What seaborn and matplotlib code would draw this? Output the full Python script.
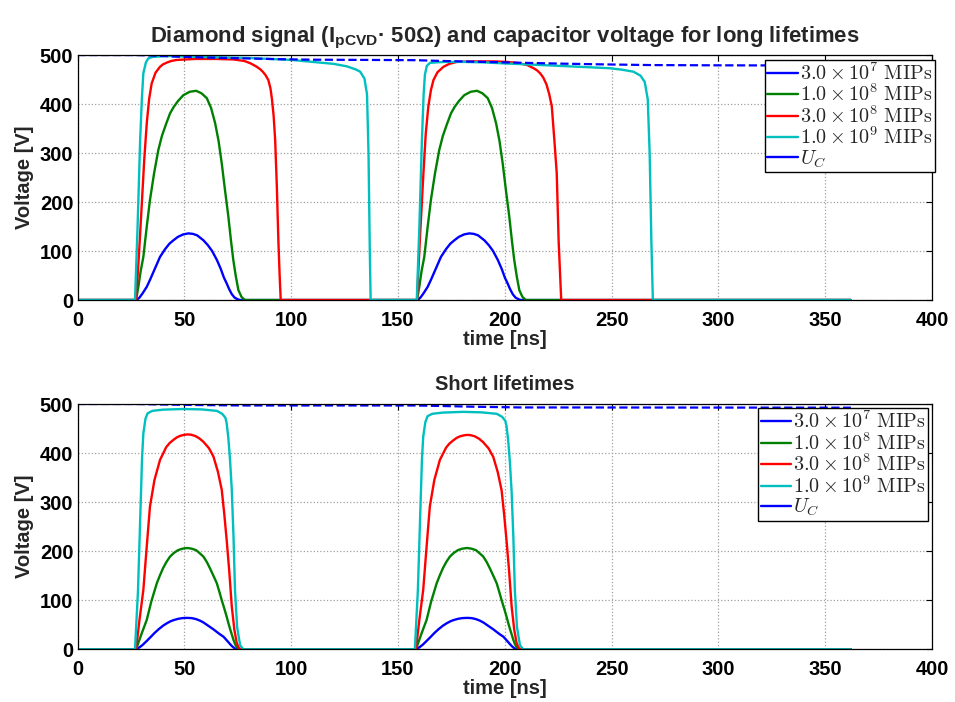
import numpy as np
import pandas as pd
import matplotlib
matplotlib.use("Agg")
import matplotlib.pyplot as plt
import seaborn as sns
from matplotlib.lines import Line2D

# ---------------- data ----------------
T_END = 362
# ---- top panel: long lifetimes ----
top_blue_t1 = [27.6, 29.0, 30.5, 32.4, 34.0, 36.0, 38.6, 41.0, 43.0, 44.9, 47.0, 49.5, 51.9, 54.0, 56.0, 58.9, 61.0, 63.0, 65.2, 67.0, 68.5, 69.8, 71.0, 72.2, 73.5, 75.0, 76.0]
top_blue_v1 = [0, 5, 14, 27, 42, 62, 88, 104, 115, 122, 129, 134, 136, 135, 132, 122, 112, 100, 82, 64, 46, 34, 22, 12, 5, 1.5, 0]
top_blue_t2 = [159.1, 160.5, 162.0, 163.9, 165.5, 167.5, 170.1, 172.5, 174.5, 176.4, 178.5, 181.0, 183.4, 185.5, 187.5, 190.4, 192.5, 194.5, 196.7, 198.5, 200.0, 201.3, 202.5, 203.7, 205.0, 206.5, 207.5]
top_blue_v2 = [0, 5, 14, 27, 42, 62, 88, 104, 115, 122, 129, 134, 136, 135, 132, 122, 112, 100, 82, 64, 46, 34, 22, 12, 5, 1.5, 0]

top_green_t1 = [27.4, 28.5, 29.5, 30.8, 32.4, 33.9, 35.8, 37.8, 39.5, 41.5, 43.3, 45.0, 47.0, 49.5, 52.5, 55.5, 58.0, 60.5, 62.5, 64.4, 66.0, 67.5, 69.0, 70.6, 71.8, 72.9, 74.1, 75.3, 76.8, 78.4]
top_green_v1 = [0, 28, 58, 88, 150, 204, 258, 306, 335, 360, 381, 394, 406, 418, 425, 427, 422, 412, 392, 361, 325, 279, 225, 170, 122, 82, 48, 20, 6, 0]
top_green_t2 = [158.9, 160.0, 161.0, 162.3, 163.9, 165.4, 167.3, 169.3, 171.0, 173.0, 174.8, 176.5, 178.5, 181.0, 184.0, 187.0, 189.5, 192.0, 194.0, 195.9, 197.5, 199.0, 200.5, 202.1, 203.3, 204.4, 205.6, 206.8, 208.3, 209.9]
top_green_v2 = [0, 28, 58, 88, 150, 204, 258, 306, 335, 360, 381, 394, 406, 418, 425, 427, 422, 412, 392, 361, 325, 279, 225, 170, 122, 82, 48, 20, 6, 0]

top_red_t1 = [27.4, 28.7, 30.0, 31.2, 32.4, 33.5, 34.7, 36.5, 38.6, 40.0, 42.0, 44.0, 46.4, 55.0, 65.0, 72.9, 78.0, 81.0, 83.9, 85.5, 86.7, 88.0, 89.3, 90.3, 91.0, 91.8, 92.5, 93.3, 94.0, 94.6, 95.1]
top_red_v1 = [0, 90, 190, 285, 361, 410, 442, 464, 476, 481, 485, 488, 490, 492, 492, 491, 488, 483, 476, 471, 466, 459, 449, 432, 410, 375, 327, 230, 122, 50, 0]
top_red_t2 = [158.9, 160.2, 161.9, 163.0, 164.2, 165.4, 166.6, 168.5, 171.3, 174.0, 177.5, 185.0, 195.0, 200.9, 205.5, 210.3, 213.5, 215.0, 216.5, 218.0, 219.5, 220.8, 222.0, 223.3, 224.3, 225.2, 226.4]
top_red_v2 = [0, 120, 259, 340, 395, 428, 449, 465, 476, 482, 486, 487, 487, 486, 484, 480, 473, 469, 463, 454, 440, 420, 395, 320, 259, 120, 0]

top_cyan_t1 = [26.9, 28.1, 29.3, 30.1, 30.8, 32.0, 33.1, 35.0, 38.0, 41.8, 50.0, 60.0, 70.0, 80.0, 90.0, 100.3, 110.0, 119.8, 126.0, 130.0, 132.3, 134.3, 135.5, 136.2, 136.8, 137.2]
top_cyan_v1 = [0, 150, 326, 410, 463, 485, 493, 496, 497, 498, 497, 496, 495, 494, 492, 490, 486, 482, 477, 471, 466, 452, 420, 300, 100, 0]
top_cyan_t2 = [158.8, 160.0, 161.2, 162.0, 162.6, 163.5, 165.0, 168.0, 172.0, 180.0, 190.0, 199.3, 210.0, 220.0, 230.0, 240.0, 249.3, 255.0, 260.2, 263.5, 265.5, 266.9, 267.8, 268.6, 269.3]
top_cyan_v2 = [0, 150, 326, 420, 460, 478, 484, 485, 486, 486, 485, 483, 481, 479, 477, 475, 473, 470, 466, 458, 445, 410, 300, 120, 0]

top_uc_t = [0, 27, 35, 45, 60, 75, 95, 110, 137, 158, 170, 190, 210, 226, 245, 269, 300, 362]
top_uc_v = [500, 500, 499, 497, 495, 493.5, 491.5, 490.5, 490, 489.5, 488, 486, 484, 482.5, 481, 479.5, 479, 478.5]

# ---- bottom panel: short lifetimes ----
bot_blue_t1 = [27.6, 29.0, 30.5, 32.4, 34.0, 36.0, 38.0, 40.0, 41.8, 43.5, 45.0, 47.0, 49.0, 51.4, 53.5, 55.5, 57.5, 59.0, 60.5, 62.0, 63.5, 65.0, 66.5, 68.3, 69.5, 70.5, 71.5, 72.5, 73.5, 75.0]
bot_blue_v1 = [0, 4, 9, 17, 24, 33, 41, 48, 53, 57, 59.5, 62, 63.5, 64, 63.5, 61.5, 58, 54.5, 50, 45.5, 41, 36, 31, 25.7, 20, 15, 10, 5.5, 2, 0]
bot_blue_t2 = [158.6, 160.0, 161.5, 163.4, 165.0, 167.0, 169.0, 171.0, 172.8, 174.5, 176.0, 178.0, 180.0, 182.4, 184.5, 186.5, 188.5, 190.0, 191.5, 193.0, 194.5, 196.0, 197.5, 199.3, 200.5, 201.5, 202.5, 203.5, 204.5, 206.0]
bot_blue_v2 = [0, 4, 9, 17, 24, 33, 41, 48, 53, 57, 59.5, 62, 63.5, 64, 63.5, 61.5, 58, 54.5, 50, 45.5, 41, 36, 31, 25.7, 20, 15, 10, 5.5, 2, 0]

bot_green_t1 = [27.4, 28.7, 30.0, 31.2, 32.4, 34.5, 37.1, 38.5, 40.0, 41.6, 43.3, 45.0, 47.0, 49.0, 51.4, 53.5, 55.5, 57.0, 58.9, 60.5, 62.0, 63.6, 65.2, 66.4, 67.5, 68.7, 69.8, 70.7, 71.5, 72.3, 73.0, 73.7, 74.3, 75.5]
bot_green_v1 = [0, 16, 32, 46, 60, 97, 134.5, 150, 165, 178, 189, 196, 202, 205, 206.5, 205, 202, 196.5, 189, 178, 165, 150, 134.5, 117, 100, 83, 66.5, 52, 40, 29, 19, 11, 6, 0]
bot_green_t2 = [158.4, 159.7, 161.0, 162.2, 163.4, 165.5, 168.1, 169.5, 171.0, 172.6, 174.3, 176.0, 178.0, 180.0, 182.4, 184.5, 186.5, 188.0, 189.9, 191.5, 193.0, 194.6, 196.2, 197.4, 198.5, 199.7, 200.8, 201.7, 202.5, 203.3, 204.0, 204.7, 205.3, 206.5]
bot_green_v2 = [0, 16, 32, 46, 60, 97, 134.5, 150, 165, 178, 189, 196, 202, 205, 206.5, 205, 202, 196.5, 189, 178, 165, 150, 134.5, 117, 100, 83, 66.5, 52, 40, 29, 19, 11, 6, 0]

bot_red_t1 = [27.4, 29.0, 30.8, 32.4, 33.9, 36.0, 38.6, 41.5, 43.0, 44.9, 46.5, 48.0, 49.7, 51.4, 53.0, 55.0, 57.0, 58.9, 61.5, 63.6, 65.7, 67.5, 68.7, 69.8, 71.0, 72.2, 73.4, 74.5, 75.5, 76.3]
bot_red_v1 = [0, 60, 121, 210, 291, 345, 386, 412, 420, 427, 432, 435, 437, 438, 437.5, 435, 430, 423, 410, 393, 362, 325, 275, 223, 160, 87, 40, 13, 3, 0]
bot_red_t2 = [158.4, 160.0, 161.8, 163.4, 164.9, 167.0, 169.6, 172.5, 174.0, 175.9, 177.5, 179.0, 180.7, 182.4, 184.0, 186.0, 188.0, 189.9, 192.5, 194.6, 196.7, 198.5, 199.7, 200.8, 202.0, 203.2, 204.4, 205.5, 206.5, 207.3]
bot_red_v2 = [0, 60, 121, 210, 291, 345, 386, 411, 419, 426, 431, 434, 436, 437, 436.5, 434, 429, 422, 409, 392, 361, 324, 274, 222, 160, 87, 40, 13, 3, 0]

bot_cyan_t1 = [26.9, 28.3, 29.5, 30.2, 30.8, 31.8, 32.8, 35.0, 40.0, 49.5, 58.0, 65.2, 67.7, 69.2, 69.8, 70.6, 71.4, 72.2, 73.0, 73.7, 74.7, 76.1, 77.6]
bot_cyan_v1 = [0, 120, 290, 390, 440, 470, 481, 486, 488.5, 489.8, 489, 486, 480, 472, 461, 430, 385, 325, 230, 121, 45, 8, 0]
bot_cyan_t2 = [157.9, 159.3, 160.5, 161.2, 161.8, 162.8, 163.8, 166.0, 171.0, 180.5, 189.0, 196.2, 198.7, 200.2, 200.8, 201.6, 202.4, 203.2, 204.0, 204.7, 205.7, 207.1, 208.6]
bot_cyan_v2 = [0, 120, 288, 385, 433, 463, 475, 480, 482.5, 484, 483, 480, 474, 466, 455, 425, 380, 320, 228, 120, 45, 8, 0]

bot_uc_t = [0, 27, 40, 55, 77, 158, 170, 185, 207, 362]
bot_uc_v = [500, 500, 499, 498, 497, 497, 496, 494.5, 493, 492.5]

labels = [r'$3.0 \times 10^{7}\ \mathrm{MIPs}$', r'$1.0 \times 10^{8}\ \mathrm{MIPs}$',
          r'$3.0 \times 10^{8}\ \mathrm{MIPs}$', r'$1.0 \times 10^{9}\ \mathrm{MIPs}$', r'$U_C$']
colors = ['#0000ff', '#008000', '#ff0000', '#00bfbf']
uc_color = '#0000ff'

top_title = r'Diamond signal (I$_{\mathrm{pCVD}}$· 50Ω) and capacitor voltage for long lifetimes'
bot_title = 'Short lifetimes'

# ---------------- style ----------------
sns.set_theme(style='white')
plt.rcParams.update({
    'font.family': ['Liberation Sans', 'DejaVu Sans'],
    'font.weight': 'bold',
    'mathtext.fontset': 'custom',
    'mathtext.rm': 'Liberation Sans:bold',
    'mathtext.it': 'Liberation Sans:italic:bold',
    'mathtext.bf': 'Liberation Sans:bold',
    'axes.edgecolor': 'black',
    'axes.linewidth': 0.9,
    'xtick.direction': 'in',
    'ytick.direction': 'in',
})


def series(t1, v1, t2, v2):
    t = [0.0] + list(t1) + list(t2) + [T_END]
    v = [0.0] + list(v1) + list(v2) + [0.0]
    return pd.DataFrame({'t': t, 'v': v})


fig = plt.figure(figsize=(9.55, 7.02), dpi=100)
ax_top = fig.add_axes([0.0812, 0.5726, 0.8948, 0.349])
ax_bot = fig.add_axes([0.0812, 0.0751, 0.8948, 0.3494])

panels = [
    (ax_top, [(top_blue_t1, top_blue_v1, top_blue_t2, top_blue_v2),
              (top_green_t1, top_green_v1, top_green_t2, top_green_v2),
              (top_red_t1, top_red_v1, top_red_t2, top_red_v2),
              (top_cyan_t1, top_cyan_v1, top_cyan_t2, top_cyan_v2)],
     (top_uc_t, top_uc_v), top_title, (1.003, 0.98), 15.9, 9),
    (ax_bot, [(bot_blue_t1, bot_blue_v1, bot_blue_t2, bot_blue_v2),
              (bot_green_t1, bot_green_v1, bot_green_t2, bot_green_v2),
              (bot_red_t1, bot_red_v1, bot_red_t2, bot_red_v2),
              (bot_cyan_t1, bot_cyan_v1, bot_cyan_t2, bot_cyan_v2)],
     (bot_uc_t, bot_uc_v), bot_title, (0.995, 0.982), 14.5, 10),
]

for ax, sigs, uc, title, anchor, tsize, tpad in panels:
    for (t1, v1, t2, v2), c in zip(sigs, colors):
        df = series(t1, v1, t2, v2)
        sns.lineplot(data=df, x='t', y='v', ax=ax, color=c, lw=1.7,
                     estimator=None, sort=False, legend=False)
    dfu = pd.DataFrame({'t': uc[0], 'v': uc[1]})
    sns.lineplot(data=dfu, x='t', y='v', ax=ax, color=uc_color, lw=1.6,
                 linestyle='--', estimator=None, sort=False, legend=False)

    ax.set_xlim(0, 400)
    ax.set_ylim(0, 500)
    ax.set_xticks(range(0, 401, 50))
    ax.set_yticks(range(0, 501, 100))
    ax.grid(True, linestyle=':', color='#a0a0a0', lw=0.9)
    ax.tick_params(axis='both', which='both', direction='in', top=True, right=True,
                   length=4, width=0.8, labelsize=14.5, colors='black')
    ax.tick_params(axis='x', pad=8)
    ax.tick_params(axis='y', pad=3)
    for lab in ax.get_xticklabels() + ax.get_yticklabels():
        lab.set_fontweight('bold')
    ax.set_xlabel('time [ns]', fontsize=14.5, fontweight='bold', labelpad=0)
    ax.set_ylabel('Voltage [V]', fontsize=14.5, fontweight='bold', labelpad=4)
    ax.set_title(title, fontsize=tsize, fontweight='bold', pad=tpad)
    for sp in ax.spines.values():
        sp.set_visible(True)
        sp.set_color('black')

    handles = [Line2D([], [], color=c, lw=1.7) for c in colors] + [Line2D([], [], color=uc_color, lw=1.7)]
    leg = ax.legend(handles, labels, loc='upper right', bbox_to_anchor=anchor,
                    fontsize=14.5, frameon=True, fancybox=False, framealpha=1,
                    edgecolor='black', borderpad=0.12, labelspacing=0.0,
                    handlelength=1.5, handletextpad=0.12, borderaxespad=0)
    leg.get_frame().set_linewidth(1.0)
    for txt in leg.get_texts():
        txt.set_math_fontfamily('cm')
        txt.set_fontweight('normal')

fig.savefig('out.png', dpi=100)
